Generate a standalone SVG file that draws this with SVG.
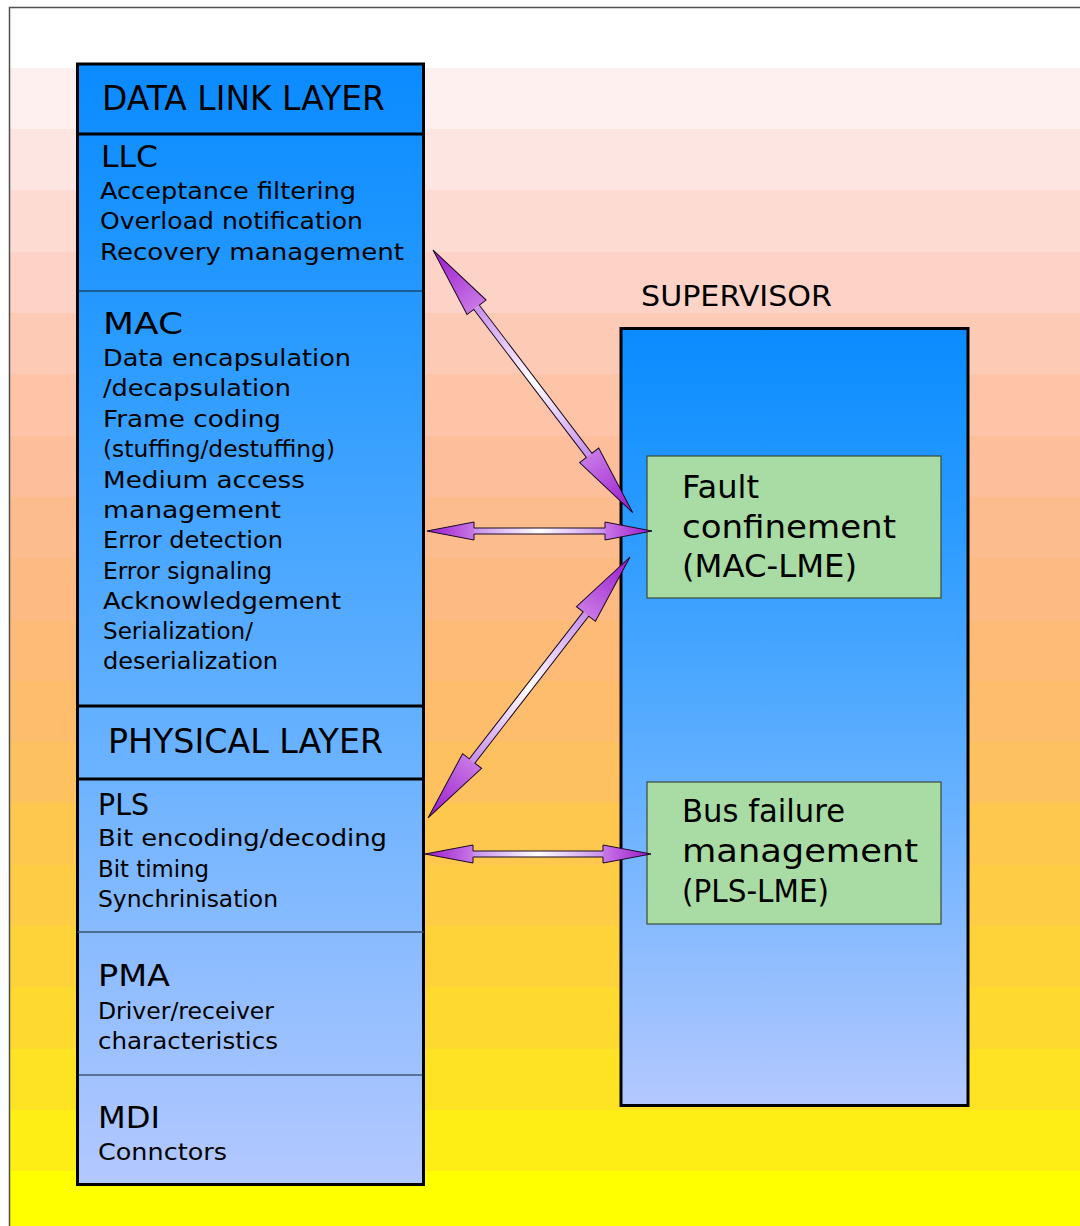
<svg xmlns="http://www.w3.org/2000/svg" width="1080" height="1226" viewBox="0 0 1080 1226">
  <style>
    text { font-family: "DejaVu Sans", "Liberation Sans", sans-serif; fill: #000; }
    .hdr { font-size: 34px; }
    .sec { font-size: 31px; }
    .item { font-size: 23px; }
    .sup { font-size: 29px; }
    .lme { font-size: 32px; }
    .stack { fill: url(#blueFill); stroke: #000; stroke-width: 3; }
    .lme-box { fill: #a8dca4; stroke: #3a4a3a; stroke-width: 1.2; }
    .div-thick { stroke: #000; stroke-width: 2.8; }
    .div-thin { stroke: #10202e; stroke-width: 1.2; }
    .arrow-outline { fill: none; stroke: #1a0a22; stroke-width: 1; stroke-linejoin: miter; }
  </style>
  <defs>
    <linearGradient id="blueFill" x1="0" y1="0" x2="0" y2="1">
      <stop offset="0" stop-color="#0a8bff"/>
      <stop offset="0.25" stop-color="#2a9bff"/>
      <stop offset="0.6" stop-color="#66b1ff"/>
      <stop offset="1" stop-color="#b4c8ff"/>
    </linearGradient>
    <linearGradient id="headFill" x1="0" y1="0" x2="1" y2="0">
      <stop offset="0" stop-color="#9a18cc"/>
      <stop offset="1" stop-color="#c878e6"/>
    </linearGradient>
    <linearGradient id="headFillRev" x1="1" y1="0" x2="0" y2="0">
      <stop offset="0" stop-color="#9a18cc"/>
      <stop offset="1" stop-color="#c878e6"/>
    </linearGradient>
    <linearGradient id="shaftFill" x1="0" y1="0" x2="1" y2="0">
      <stop offset="0" stop-color="#c890ec"/>
      <stop offset="0.5" stop-color="#ffffff"/>
      <stop offset="1" stop-color="#c890ec"/>
    </linearGradient>
  </defs>

  <!-- page background: white sheet with stepped pink-to-yellow bands -->
  <g id="background">
    <rect x="0" y="0" width="1080" height="1226" fill="#ffffff"/>
    <rect x="10" y="68" width="1070" height="62" fill="#fdf0ef"/>
    <rect x="10" y="129" width="1070" height="62" fill="#fde5e1"/>
    <rect x="10" y="190" width="1070" height="63" fill="#fddbd3"/>
    <rect x="10" y="252" width="1070" height="62" fill="#fdd3c7"/>
    <rect x="10" y="313" width="1070" height="62" fill="#fdcab6"/>
    <rect x="10" y="374" width="1070" height="63" fill="#fdc4a8"/>
    <rect x="10" y="436" width="1070" height="62" fill="#fdbf9b"/>
    <rect x="10" y="497" width="1070" height="62" fill="#fdbc8e"/>
    <rect x="10" y="558" width="1070" height="63" fill="#fdba82"/>
    <rect x="10" y="620" width="1070" height="62" fill="#fdbb77"/>
    <rect x="10" y="681" width="1070" height="62" fill="#fdbd6c"/>
    <rect x="10" y="742" width="1070" height="62" fill="#fdc25f"/>
    <rect x="10" y="803" width="1070" height="63" fill="#fec84f"/>
    <rect x="10" y="865" width="1070" height="62" fill="#fecd45"/>
    <rect x="10" y="926" width="1070" height="62" fill="#fed33a"/>
    <rect x="10" y="987" width="1070" height="63" fill="#fed92f"/>
    <rect x="10" y="1049" width="1070" height="62" fill="#fee324"/>
    <rect x="10" y="1110" width="1070" height="62" fill="#ffee16"/>
    <rect x="10" y="1171" width="1070" height="55" fill="#ffff00"/>
    <path d="M9.5,1226 V7.5 H1080" fill="none" stroke="#505050" stroke-width="1.5"/>
  </g>

  <!-- layered protocol stack -->
  <g id="protocol-stack">
    <rect class="stack" x="77.5" y="64" width="346" height="1120.5"/>
    <line class="div-thick" x1="77.5" y1="134" x2="423.5" y2="134"/>
    <line class="div-thin" x1="77.5" y1="291" x2="423.5" y2="291"/>
    <line class="div-thick" x1="77.5" y1="706" x2="423.5" y2="706"/>
    <line class="div-thick" x1="77.5" y1="779" x2="423.5" y2="779"/>
    <line class="div-thin" x1="77.5" y1="932" x2="423.5" y2="932" style="stroke:#3a5472;stroke-width:1.6"/>
    <line class="div-thin" x1="77.5" y1="1075" x2="423.5" y2="1075"/>
  </g>

  <g id="data-link-layer">
    <text class="hdr" x="102" y="110" textLength="283" lengthAdjust="spacingAndGlyphs">DATA LINK LAYER</text>
  </g>

  <g id="llc">
    <text class="sec" x="101" y="167" textLength="57" lengthAdjust="spacingAndGlyphs">LLC</text>
    <text class="item" x="100" y="199" textLength="256" lengthAdjust="spacingAndGlyphs">Acceptance filtering</text>
    <text class="item" x="100" y="229" textLength="263" lengthAdjust="spacingAndGlyphs">Overload notification</text>
    <text class="item" x="100" y="260" textLength="304" lengthAdjust="spacingAndGlyphs">Recovery management</text>
  </g>

  <g id="mac">
    <text class="sec" x="103" y="334" textLength="80" lengthAdjust="spacingAndGlyphs">MAC</text>
    <text class="item" x="103" y="366" textLength="248" lengthAdjust="spacingAndGlyphs">Data encapsulation</text>
    <text class="item" x="103" y="396" textLength="188" lengthAdjust="spacingAndGlyphs">/decapsulation</text>
    <text class="item" x="103" y="427" textLength="178" lengthAdjust="spacingAndGlyphs">Frame coding</text>
    <text class="item" x="103" y="457" textLength="232" lengthAdjust="spacingAndGlyphs">(stuffing/destuffing)</text>
    <text class="item" x="103" y="488" textLength="202" lengthAdjust="spacingAndGlyphs">Medium access</text>
    <text class="item" x="103" y="518" textLength="178" lengthAdjust="spacingAndGlyphs">management</text>
    <text class="item" x="103" y="548" textLength="180" lengthAdjust="spacingAndGlyphs">Error detection</text>
    <text class="item" x="103" y="579" textLength="169" lengthAdjust="spacingAndGlyphs">Error signaling</text>
    <text class="item" x="103" y="609" textLength="238" lengthAdjust="spacingAndGlyphs">Acknowledgement</text>
    <text class="item" x="103" y="639" textLength="150" lengthAdjust="spacingAndGlyphs">Serialization/</text>
    <text class="item" x="103" y="669" textLength="175" lengthAdjust="spacingAndGlyphs">deserialization</text>
  </g>

  <g id="physical-layer">
    <text class="hdr" x="108" y="753" textLength="275" lengthAdjust="spacingAndGlyphs">PHYSICAL LAYER</text>
  </g>

  <g id="pls">
    <text class="sec" x="98" y="815" textLength="51" lengthAdjust="spacingAndGlyphs">PLS</text>
    <text class="item" x="98" y="846" textLength="289" lengthAdjust="spacingAndGlyphs">Bit encoding/decoding</text>
    <text class="item" x="98" y="877" textLength="111" lengthAdjust="spacingAndGlyphs">Bit timing</text>
    <text class="item" x="98" y="907" textLength="180" lengthAdjust="spacingAndGlyphs">Synchrinisation</text>
  </g>

  <g id="pma">
    <text class="sec" x="98" y="986" textLength="72" lengthAdjust="spacingAndGlyphs">PMA</text>
    <text class="item" x="98" y="1019" textLength="176" lengthAdjust="spacingAndGlyphs">Driver/receiver</text>
    <text class="item" x="98" y="1049" textLength="180" lengthAdjust="spacingAndGlyphs">characteristics</text>
  </g>

  <g id="mdi">
    <text class="sec" x="98" y="1128" textLength="62" lengthAdjust="spacingAndGlyphs">MDI</text>
    <text class="item" x="98" y="1160" textLength="129" lengthAdjust="spacingAndGlyphs">Connctors</text>
  </g>

  <!-- supervisor column with its layer management entities -->
  <g id="supervisor">
    <text class="sup" x="641" y="306" textLength="191" lengthAdjust="spacingAndGlyphs">SUPERVISOR</text>
    <rect class="stack" x="621" y="328.5" width="347" height="777"/>
  </g>

  <g id="fault-confinement">
    <rect class="lme-box" x="647" y="456" width="294" height="142"/>
    <text class="lme" x="682" y="498" textLength="77" lengthAdjust="spacingAndGlyphs">Fault</text>
    <text class="lme" x="682" y="538" textLength="214" lengthAdjust="spacingAndGlyphs">confinement</text>
    <text class="lme" x="682" y="577" textLength="175" lengthAdjust="spacingAndGlyphs">(MAC-LME)</text>
  </g>

  <g id="bus-failure-management">
    <rect class="lme-box" x="647" y="782" width="294" height="142"/>
    <text class="lme" x="682" y="822" textLength="163" lengthAdjust="spacingAndGlyphs">Bus failure</text>
    <text class="lme" x="682" y="862" textLength="236" lengthAdjust="spacingAndGlyphs">management</text>
    <text class="lme" x="682" y="902" textLength="147" lengthAdjust="spacingAndGlyphs">(PLS-LME)</text>
  </g>

  <!-- double-headed connectors, drawn along a local x axis from tip to tip -->
  <g id="connectors">
    <!-- LLC <-> fault confinement -->
    <g transform="translate(433,250) rotate(52.75)">
      <rect x="72" y="-3.5" width="186" height="7" fill="url(#shaftFill)"/>
      <polygon points="0,0 72,-12 72,12" fill="url(#headFill)"/>
      <polygon points="330,0 258,-12 258,12" fill="url(#headFillRev)"/>
      <polygon class="arrow-outline" points="0,0 72,-12 72,-3.5 258,-3.5 258,-12 330,0 258,12 258,3.5 72,3.5 72,12"/>
    </g>
    <!-- MAC <-> fault confinement -->
    <g transform="translate(427,531)">
      <rect x="47" y="-3" width="131" height="6" fill="url(#shaftFill)"/>
      <polygon points="0,0 47,-9 47,9" fill="url(#headFill)"/>
      <polygon points="225,0 178,-9 178,9" fill="url(#headFillRev)"/>
      <polygon class="arrow-outline" points="0,0 47,-9 47,-3 178,-3 178,-9 225,0 178,9 178,3 47,3 47,9"/>
    </g>
    <!-- PLS <-> fault confinement -->
    <g transform="translate(630,557) rotate(127.74)">
      <rect x="72" y="-3.5" width="186" height="7" fill="url(#shaftFill)"/>
      <polygon points="0,0 72,-12 72,12" fill="url(#headFill)"/>
      <polygon points="330,0 258,-12 258,12" fill="url(#headFillRev)"/>
      <polygon class="arrow-outline" points="0,0 72,-12 72,-3.5 258,-3.5 258,-12 330,0 258,12 258,3.5 72,3.5 72,12"/>
    </g>
    <!-- PLS <-> bus failure management -->
    <g transform="translate(425,854)">
      <rect x="48" y="-3" width="130" height="6" fill="url(#shaftFill)"/>
      <polygon points="0,0 48,-9 48,9" fill="url(#headFill)"/>
      <polygon points="226,0 178,-9 178,9" fill="url(#headFillRev)"/>
      <polygon class="arrow-outline" points="0,0 48,-9 48,-3 178,-3 178,-9 226,0 178,9 178,3 48,3 48,9"/>
    </g>
  </g>
</svg>
